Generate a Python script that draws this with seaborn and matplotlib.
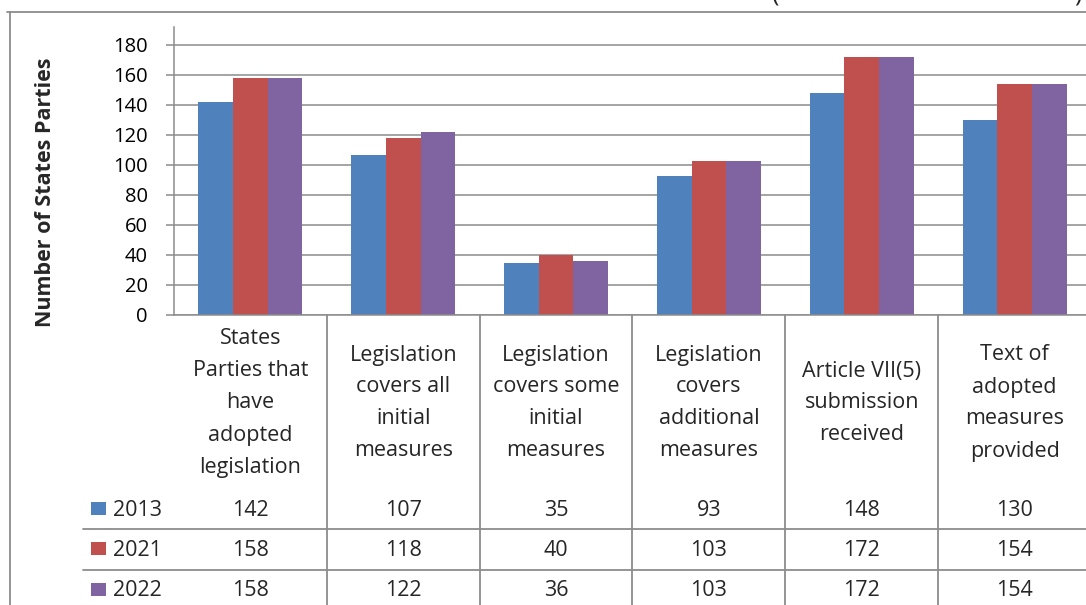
import matplotlib
matplotlib.use("Agg")
import matplotlib.pyplot as plt
from matplotlib.lines import Line2D
from matplotlib.patches import Rectangle
from matplotlib.transforms import blended_transform_factory
import seaborn as sns
import pandas as pd

# ---- data -------------------------------------------------------------
category_lines = [
    ["States", "Parties that", "have", "adopted", "legislation"],
    ["Legislation", "covers all", "initial", "measures"],
    ["Legislation", "covers some", "initial", "measures"],
    ["Legislation", "covers", "additional", "measures"],
    ["Article VII(5)", "submission", "received"],
    ["Text of", "adopted", "measures", "provided"],
]
categories = [" ".join(lines) for lines in category_lines]
years = ["2013", "2021", "2022"]
values_2013 = [142, 107, 35, 93, 148, 130]
values_2021 = [158, 118, 40, 103, 172, 154]
values_2022 = [158, 122, 36, 103, 172, 154]
colors = ["#4F81BD", "#C0504D", "#8064A2"]
y_ticks = [0, 20, 40, 60, 80, 100, 120, 140, 160, 180]

series = {"2013": values_2013, "2021": values_2021, "2022": values_2022}
df = pd.DataFrame(
    [(c, y, v) for y in years for c, v in zip(categories, series[y])],
    columns=["category", "year", "value"],
)

# ---- style ------------------------------------------------------------
sns.set_style("white")
plt.rcParams["font.family"] = ["Open Sans", "DejaVu Sans"]
GRAY = "#8c8c8c"

W, H = 1086, 605
fig = plt.figure(figsize=(W / 100, H / 100), dpi=100)


def fx(px):
    return px / W


def fy(py):
    return 1 - py / H


ax_left, ax_right, ax_top, ax_bottom = 174, 1091, 27, 315
ax = fig.add_axes([fx(ax_left), fy(ax_bottom), fx(ax_right) - fx(ax_left),
                   fy(ax_top) - fy(ax_bottom)])

sns.barplot(data=df, x="category", y="value", hue="year", order=categories,
            hue_order=years, palette=colors, width=0.68, saturation=1,
            ax=ax, legend=False, edgecolor="none")

ax.set_xlim(-0.5, 5.5)
ax.set_ylim(0, 192)
ax.set_yticks(y_ticks)
ax.set_yticklabels([str(t) for t in y_ticks], fontsize=14.5, color="black")
ax.tick_params(axis="y", length=5.8, width=1.1, color=GRAY, pad=13, left=True)
ax.tick_params(axis="x", length=0, labelbottom=False)
ax.set_xlabel("")
ax.set_ylabel("")
ax.yaxis.grid(True, color=GRAY, linewidth=1.1)
ax.set_axisbelow(True)
for side in ["top", "right"]:
    ax.spines[side].set_visible(False)
for side in ["left", "bottom"]:
    ax.spines[side].set_color(GRAY)
    ax.spines[side].set_linewidth(1.1)

# ---- y-axis title -----------------------------------------------------
fig.text(fx(46), fy(192), "Number of States Parties", rotation=90,
         fontweight="bold", fontsize=15.5, ha="center", va="center")

# ---- data table below the axis ---------------------------------------
trans = blended_transform_factory(ax.transData, fig.transFigure)
TXT = 15.5

for i in range(len(categories)):
    # column separators
    fig.add_artist(Line2D([i + 0.5, i + 0.5], [fy(ax_bottom), fy(H + 2)],
                          transform=trans, color=GRAY, lw=1.3, clip_on=False))
    # wrapped category names
    lines = category_lines[i]
    n = len(lines)
    for j, txt in enumerate(lines):
        yc = 401 + (j - (n - 1) / 2) * 32
        fig.text(i, fy(yc + 7.5), txt, transform=trans, ha="center",
                 va="baseline", fontsize=TXT)

row_centers = [508, 548, 589]
for ln_y in [529, 570]:
    fig.add_artist(Line2D([fx(83), fx(W + 5)], [fy(ln_y), fy(ln_y)],
                          transform=fig.transFigure, color=GRAY, lw=1.3))

for r, (yr, col) in enumerate(zip(years, colors)):
    yc = row_centers[r]
    fig.add_artist(Rectangle((fx(91), fy(yc + 6.5)), fx(15) - fx(0),
                             fy(0) - fy(13), transform=fig.transFigure,
                             facecolor=col, edgecolor="none"))
    fig.text(fx(113), fy(yc + 7.5), yr, ha="left", va="baseline", fontsize=TXT)
    for i, v in enumerate(series[yr]):
        fig.text(i, fy(yc + 7.5), str(v), transform=trans, ha="center",
                 va="baseline", fontsize=TXT)

# ---- outer chart frame -----------------------------------------------
fig.add_artist(Line2D([fx(10), fx(10)], [fy(12), fy(H + 2)],
                      transform=fig.transFigure, color=GRAY, lw=1.3))
fig.add_artist(Line2D([fx(7), fx(W + 2)], [fy(12), fy(12)],
                      transform=fig.transFigure, color=GRAY, lw=1.3))

# caption brackets running off the top edge
fig.text(fx(772), fy(0.5), "(", fontsize=18, ha="left", va="baseline")
fig.text(fx(1074), fy(0.5), ")", fontsize=18, ha="left", va="baseline")

fig.savefig("out.png", dpi=100)
